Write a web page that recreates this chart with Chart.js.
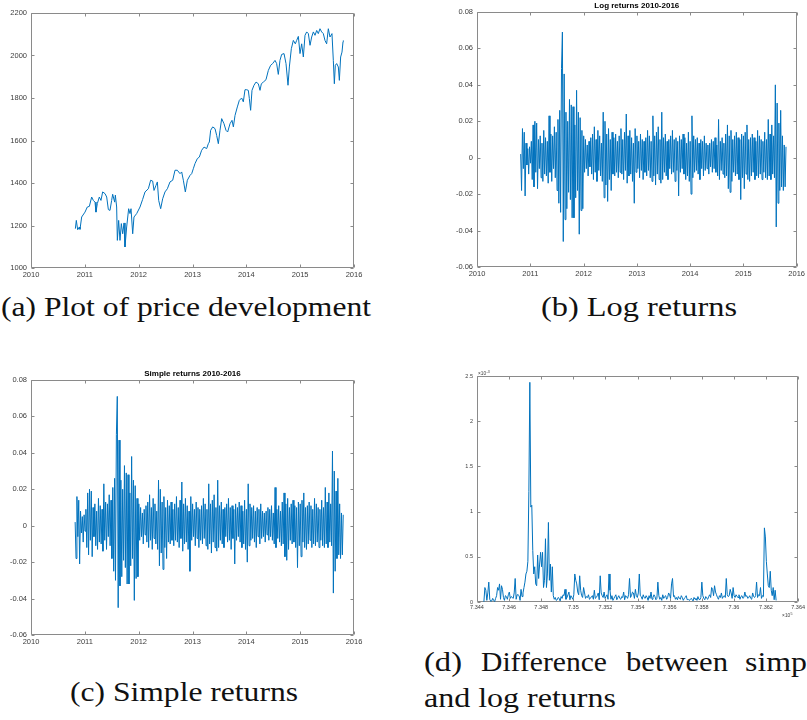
<!DOCTYPE html>
<html>
<head>
<meta charset="utf-8">
<script src="https://cdn.jsdelivr.net/npm/chart.js@4.4.1/dist/chart.umd.min.js"></script>
<style>
  html, body { margin:0; padding:0; background:#fff; width:807px; height:720px; overflow:hidden; }
  canvas { position:absolute; }
  .cap { position:absolute; font-family:"Liberation Serif","Times New Roman",serif; font-size:28px; line-height:28px; white-space:nowrap; color:#111; transform-origin:0 0; }
</style>
</head>
<body>
<canvas id="cA" width="400" height="290" style="left:0;top:0"></canvas>
<canvas id="cB" width="407" height="290" style="left:400px;top:0"></canvas>
<canvas id="cC" width="400" height="300" style="left:0;top:360px"></canvas>
<canvas id="cD" width="407" height="280" style="left:400px;top:360px"></canvas>

<div class="cap" id="capA">(a) Plot of price development</div>
<div class="cap" id="capB">(b) Log returns</div>
<div class="cap" id="capC">(c) Simple returns</div>
<div class="cap" id="capD1">(d)</div>
<div class="cap" id="capD2">Difference</div>
<div class="cap" id="capD3">between</div>
<div class="cap" id="capD4">simple</div>
<div class="cap" id="capD5">and log returns</div>

<script>
// ---------------- DATA ----------------
const yearTicks = [2010, 2011, 2012, 2013, 2014, 2015, 2016];

const priceYears = [2010.824,2010.842,2010.867,2010.898,2010.910,2010.941,2011.003,2011.046,2011.084,2011.127,
2011.158,2011.189,2011.207,2011.232,2011.269,2011.300,2011.331,2011.375,2011.406,2011.437,
2011.467,2011.498,2011.517,2011.554,2011.567,2011.591,2011.604,2011.628,2011.653,2011.678,
2011.703,2011.728,2011.746,2011.777,2011.814,2011.839,2011.858,2011.889,2011.913,2011.963,
2012.025,2012.074,2012.118,2012.180,2012.223,2012.260,2012.285,2012.322,2012.347,2012.372,
2012.409,2012.446,2012.489,2012.533,2012.582,2012.632,2012.675,2012.718,2012.768,2012.799,
2012.830,2012.867,2012.904,2012.954,2012.985,2013.015,2013.046,2013.090,2013.127,2013.170,
2013.214,2013.263,2013.294,2013.313,2013.337,2013.375,2013.418,2013.449,2013.480,2013.511,
2013.542,2013.585,2013.622,2013.653,2013.697,2013.734,2013.759,2013.790,2013.833,2013.870,
2013.913,2013.944,2013.975,2014.006,2014.037,2014.056,2014.080,2014.105,2014.142,2014.180,
2014.223,2014.254,2014.279,2014.316,2014.365,2014.409,2014.452,2014.489,2014.533,2014.563,
2014.594,2014.625,2014.656,2014.700,2014.737,2014.774,2014.799,2014.836,2014.873,2014.910,
2014.935,2014.966,2014.997,2015.028,2015.059,2015.090,2015.121,2015.152,2015.183,2015.214,
2015.245,2015.276,2015.307,2015.337,2015.368,2015.399,2015.430,2015.461,2015.492,2015.523,
2015.554,2015.591,2015.616,2015.635,2015.653,2015.678,2015.709,2015.728,2015.752,2015.777,
2015.796,2015.802];

const priceValues = [1185,1224,1180,1193,1182,1240,1263,1287,1290,1334,
1318,1310,1263,1303,1334,1318,1358,1350,1334,1275,
1271,1318,1347,1310,1343,1287,1130,1224,1130,1209,
1161,1212,1099,1193,1279,1256,1279,1161,1240,1256,
1287,1323,1358,1373,1413,1409,1365,1389,1405,1318,
1279,1326,1358,1373,1405,1413,1460,1460,1444,1452,
1413,1358,1413,1436,1444,1467,1491,1515,1522,1554,
1569,1562,1585,1593,1648,1664,1656,1624,1585,1648,
1703,1679,1648,1640,1679,1695,1664,1718,1758,1789,
1800,1782,1839,1839,1836,1797,1742,1836,1860,1875,
1867,1836,1867,1875,1886,1930,1954,1962,1977,1962,
1911,1977,2005,2009,1962,1860,1946,2032,2071,2055,
2071,2090,2009,2055,1993,2095,2111,2103,2048,2087,
2111,2095,2118,2103,2126,2111,2103,2071,2055,2126,
2087,2103,1977,1867,1954,1962,1946,1883,1993,2016,
2065,2071];

// returns sampled from 2010.82 to 2015.80 (equally spaced observations)
const returnsFirstYear = 2010.82;
const returnsLastYear = 2015.80;

const logReturns = [0.002,-0.018,0.016,-0.006,0.014,-0.021,0.008,-0.004,0.005,-0.009,
0.006,-0.003,0.009,-0.012,0.018,-0.016,0.020,-0.008,0.019,-0.017,
0.010,-0.006,0.012,-0.011,0.008,-0.013,0.015,-0.009,0.011,-0.010,
0.009,-0.014,0.023,-0.008,0.013,-0.013,0.012,-0.006,0.017,-0.011,
0.014,-0.018,0.021,-0.025,0.026,-0.030,0.049,0.069,-0.046,0.046,
-0.034,0.025,-0.028,0.020,-0.019,0.032,-0.023,0.029,-0.033,0.028,
-0.033,0.018,-0.022,0.037,-0.018,0.025,-0.042,0.022,-0.029,0.015,
-0.028,0.012,-0.008,0.010,-0.006,0.007,-0.010,0.009,-0.005,0.011,
-0.009,0.013,-0.012,0.017,-0.008,0.010,-0.013,0.015,-0.007,0.012,
-0.010,0.008,-0.013,0.025,-0.022,0.020,-0.015,0.013,-0.024,0.016,
-0.012,0.010,-0.018,0.014,-0.009,0.011,-0.010,0.013,-0.008,0.009,
-0.011,0.012,-0.008,0.016,-0.009,0.010,-0.012,0.014,-0.007,0.024,
-0.014,0.012,-0.010,0.015,-0.009,0.011,-0.013,0.008,-0.025,0.016,
-0.008,0.012,-0.006,0.009,-0.011,0.013,-0.007,0.010,-0.012,0.009,
-0.008,0.011,-0.010,0.015,-0.007,0.012,-0.011,0.009,-0.013,0.023,
-0.010,0.012,-0.015,0.014,-0.009,0.017,-0.012,0.010,-0.014,0.025,
-0.012,0.011,-0.008,0.013,-0.010,0.009,-0.012,0.010,-0.006,0.012,
-0.009,0.015,-0.008,0.010,-0.013,0.011,-0.007,0.009,-0.021,0.012,
-0.008,0.010,-0.006,0.013,-0.009,0.011,-0.012,0.008,-0.010,0.014,
-0.013,0.009,-0.020,0.023,-0.011,0.012,-0.008,0.010,-0.007,0.011,
-0.009,0.008,-0.012,0.010,-0.006,0.009,-0.010,0.012,-0.007,0.008,
-0.006,0.007,-0.009,0.008,-0.005,0.010,-0.008,0.009,-0.006,0.011,
-0.008,0.007,-0.010,0.021,-0.012,0.009,-0.007,0.011,-0.009,0.008,
-0.011,0.013,-0.010,0.018,-0.017,0.012,-0.019,0.015,-0.013,0.010,
-0.008,0.012,-0.010,0.014,-0.009,0.011,-0.012,0.010,-0.023,0.013,
-0.011,0.012,-0.017,0.014,-0.009,0.018,-0.012,0.010,-0.013,0.011,
-0.010,0.013,-0.008,0.011,-0.012,0.009,-0.010,0.015,-0.011,0.012,
-0.009,0.010,-0.012,0.009,-0.008,0.014,-0.011,0.010,-0.012,0.021,
-0.010,0.013,-0.012,0.018,-0.009,0.012,-0.011,0.040,-0.038,0.030,
-0.025,0.019,-0.018,0.026,-0.016,0.012,-0.018,0.007,-0.016,0.006];

const simpleReturns = [0.002,-0.018,0.016,-0.006,0.014,-0.021,0.008,-0.004,0.005,-0.009,
0.006,-0.003,0.009,-0.012,0.018,-0.016,0.020,-0.008,0.019,-0.017,
0.010,-0.006,0.012,-0.011,0.008,-0.013,0.015,-0.009,0.011,-0.010,
0.009,-0.014,0.023,-0.008,0.013,-0.013,0.012,-0.006,0.017,-0.011,
0.014,-0.018,0.021,-0.025,0.026,-0.030,0.050,0.071,-0.045,0.047,
-0.033,0.025,-0.028,0.020,-0.019,0.033,-0.023,0.029,-0.032,0.028,
-0.032,0.018,-0.022,0.038,-0.018,0.025,-0.041,0.022,-0.029,0.015,
-0.028,0.012,-0.008,0.010,-0.006,0.007,-0.010,0.009,-0.005,0.011,
-0.009,0.013,-0.012,0.017,-0.008,0.010,-0.013,0.015,-0.007,0.012,
-0.010,0.008,-0.013,0.025,-0.022,0.020,-0.015,0.013,-0.024,0.016,
-0.012,0.010,-0.018,0.014,-0.009,0.011,-0.010,0.013,-0.008,0.009,
-0.011,0.012,-0.008,0.016,-0.009,0.010,-0.012,0.014,-0.007,0.024,
-0.014,0.012,-0.010,0.015,-0.009,0.011,-0.013,0.008,-0.025,0.016,
-0.008,0.012,-0.006,0.009,-0.011,0.013,-0.007,0.010,-0.012,0.009,
-0.008,0.011,-0.010,0.015,-0.007,0.012,-0.011,0.009,-0.013,0.023,
-0.010,0.012,-0.015,0.014,-0.009,0.017,-0.012,0.010,-0.014,0.025,
-0.012,0.011,-0.008,0.013,-0.010,0.009,-0.012,0.010,-0.006,0.012,
-0.009,0.015,-0.008,0.010,-0.013,0.011,-0.007,0.009,-0.021,0.012,
-0.008,0.010,-0.006,0.013,-0.009,0.011,-0.012,0.008,-0.010,0.014,
-0.013,0.009,-0.020,0.023,-0.011,0.012,-0.008,0.010,-0.007,0.011,
-0.009,0.008,-0.012,0.010,-0.006,0.009,-0.010,0.012,-0.007,0.008,
-0.006,0.007,-0.009,0.008,-0.005,0.010,-0.008,0.009,-0.006,0.011,
-0.008,0.007,-0.010,0.021,-0.012,0.009,-0.007,0.011,-0.009,0.008,
-0.011,0.013,-0.010,0.018,-0.017,0.012,-0.019,0.015,-0.013,0.010,
-0.008,0.012,-0.010,0.014,-0.009,0.011,-0.012,0.010,-0.023,0.013,
-0.011,0.012,-0.017,0.014,-0.009,0.018,-0.012,0.010,-0.013,0.011,
-0.010,0.013,-0.008,0.011,-0.012,0.009,-0.010,0.015,-0.011,0.012,
-0.009,0.010,-0.012,0.009,-0.008,0.014,-0.011,0.010,-0.012,0.021,
-0.010,0.013,-0.012,0.018,-0.009,0.012,-0.011,0.041,-0.037,0.030,
-0.025,0.019,-0.018,0.026,-0.016,0.012,-0.018,0.007,-0.016,0.006];

// difference simple - log, in units of 1e-3, on a datenum axis
const diffFirstDatenum = 734443;
const diffLastDatenum = 736263;
const diffTimes1e3 = [0.002,0.16,0.13,0.018,0.10,0.22,0.03,0.008,0.012,0.04,
0.018,0.005,0.04,0.07,0.16,0.13,0.20,0.03,0.18,0.14,
0.05,0.018,0.07,0.06,0.03,0.08,0.11,0.04,0.06,0.05,
0.04,0.10,0.26,0.03,0.08,0.08,0.07,0.018,0.14,0.06,
0.10,0.16,0.22,0.31,0.34,0.45,1.22,2.43,1.05,1.07,
0.57,0.31,0.39,0.20,0.18,0.52,0.26,0.42,0.55,0.39,
0.55,0.16,0.24,0.70,0.16,0.31,0.88,0.24,0.42,0.11,
0.39,0.07,0.03,0.05,0.018,0.025,0.05,0.04,0.012,0.06,
0.04,0.08,0.07,0.14,0.03,0.05,0.08,0.11,0.025,0.07,
0.05,0.03,0.08,0.31,0.24,0.20,0.11,0.08,0.29,0.13,
0.07,0.05,0.16,0.10,0.04,0.06,0.05,0.08,0.03,0.04,
0.06,0.07,0.03,0.13,0.04,0.05,0.07,0.10,0.025,0.29,
0.10,0.07,0.05,0.11,0.04,0.06,0.08,0.03,0.31,0.13,
0.03,0.07,0.018,0.04,0.06,0.08,0.025,0.05,0.07,0.04,
0.03,0.06,0.05,0.11,0.025,0.07,0.06,0.04,0.08,0.26,
0.05,0.07,0.11,0.10,0.04,0.14,0.07,0.05,0.10,0.31,
0.07,0.06,0.03,0.08,0.05,0.04,0.07,0.05,0.018,0.07,
0.04,0.11,0.03,0.05,0.08,0.06,0.025,0.04,0.22,0.07,
0.03,0.05,0.018,0.08,0.04,0.06,0.07,0.03,0.05,0.10,
0.08,0.04,0.20,0.26,0.06,0.07,0.03,0.05,0.025,0.06,
0.04,0.03,0.07,0.05,0.018,0.04,0.05,0.07,0.025,0.03,
0.018,0.025,0.04,0.03,0.012,0.05,0.03,0.04,0.018,0.06,
0.03,0.025,0.05,0.22,0.07,0.04,0.025,0.06,0.04,0.03,
0.06,0.08,0.05,0.16,0.14,0.07,0.18,0.11,0.08,0.05,
0.03,0.07,0.05,0.10,0.04,0.06,0.07,0.05,0.26,0.08,
0.06,0.07,0.14,0.10,0.04,0.16,0.07,0.05,0.08,0.06,
0.05,0.08,0.03,0.06,0.07,0.04,0.05,0.11,0.06,0.07,
0.04,0.05,0.07,0.04,0.03,0.10,0.06,0.05,0.07,0.22,
0.05,0.08,0.07,0.16,0.04,0.07,0.06,0.82,0.72,0.45,
0.31,0.18,0.16,0.34,0.13,0.07,0.16,0.025,0.13,0.018];

// ---------------- HELPERS ----------------
const LINE = '#0072bd';
const AXIS = '#8a8a8a';
const TICKTXT = '#3c3c3c';
const SANS = '"Liberation Sans", Helvetica, Arial, sans-serif';

function evenSeries(values, first, last) {
  const step = (last - first) / (values.length - 1);
  return values.map((v, i) => ({ x: first + i * step, y: v }));
}

const boxPlugin = {
  id: 'mbox',
  beforeDatasetsDraw(chart, args, o) {
    const { ctx, chartArea: a } = chart;
    const L = Math.round(a.left) + 0.5, R = Math.round(a.right) - 0.5;
    const T = Math.round(a.top) + 0.5, B = Math.round(a.bottom) - 0.5;
    ctx.save();
    ctx.strokeStyle = AXIS; ctx.lineWidth = 1;
    ctx.beginPath();
    ctx.rect(L, T, R - L, B - T);
    const tl = o.tickLen || 3;
    chart.scales.x.ticks.forEach(t => {
      const p = Math.round(chart.scales.x.getPixelForValue(t.value)) + 0.5;
      ctx.moveTo(p, B); ctx.lineTo(p, B - tl);
      ctx.moveTo(p, T); ctx.lineTo(p, T + tl);
    });
    chart.scales.y.ticks.forEach(t => {
      const p = Math.round(chart.scales.y.getPixelForValue(t.value)) + 0.5;
      ctx.moveTo(L, p); ctx.lineTo(L + tl, p);
      ctx.moveTo(R, p); ctx.lineTo(R - tl, p);
    });
    ctx.stroke();
    if (o.title) {
      ctx.fillStyle = '#000';
      ctx.font = 'bold 8px ' + SANS;
      ctx.textAlign = 'center'; ctx.textBaseline = 'middle';
      ctx.fillText(o.title, (a.left + a.right) / 2, a.top - 6.5);
    }
    if (o.expY) {
      ctx.fillStyle = TICKTXT; ctx.textAlign = 'left'; ctx.textBaseline = 'alphabetic';
      ctx.font = '4.8px ' + SANS;
      ctx.fillText('\u00d710', a.left + 1, a.top - 1);
      const w = ctx.measureText('\u00d710').width;
      ctx.font = '3.6px ' + SANS;
      ctx.fillText(o.expY, a.left + 1 + w + 0.3, a.top - 3.5);
    }
    if (o.expX) {
      ctx.fillStyle = TICKTXT; ctx.textAlign = 'left'; ctx.textBaseline = 'alphabetic';
      ctx.font = '4.8px ' + SANS;
      const x0 = a.right - 16;
      ctx.fillText('\u00d710', x0, a.bottom + 15);
      const w = ctx.measureText('\u00d710').width;
      ctx.font = '3.6px ' + SANS;
      ctx.fillText(o.expX, x0 + w + 0.3, a.bottom + 12.5);
    }
    ctx.restore();
  }
};

function makeChart(id, data, box, xs, ys, plug, fontSize) {
  const tickFont = { family: SANS, size: fontSize };
  return new Chart(document.getElementById(id), {
    type: 'line',
    data: { datasets: [{ data, borderColor: LINE, borderWidth: 1, pointRadius: 0, tension: 0, fill: false }] },
    options: {
      responsive: false, animation: false, devicePixelRatio: 1,
      parsing: false, normalized: true,
      layout: { padding: { left: 0, top: box.top, right: box.right, bottom: 0 } },
      plugins: { legend: { display: false }, tooltip: { enabled: false }, title: { display: false }, mbox: plug },
      scales: {
        x: Object.assign({
          type: 'linear', position: 'bottom',
          grid: { display: false, drawTicks: false, tickLength: 0 }, border: { display: false },
          ticks: { font: tickFont, color: TICKTXT, padding: xs.pad, autoSkip: false, maxRotation: 0, minRotation: 0, stepSize: xs.step, callback: xs.fmt },
          afterFit: s => { s.height = box.xh; }
        }, xs.o),
        y: Object.assign({
          type: 'linear', position: 'left',
          grid: { display: false, drawTicks: false, tickLength: 0 }, border: { display: false },
          ticks: { font: tickFont, color: TICKTXT, padding: ys.pad, autoSkip: false, stepSize: ys.step, callback: ys.fmt },
          afterFit: s => { s.width = box.yw; }
        }, ys.o)
      }
    },
    plugins: [boxPlugin]
  });
}

const yearAxis = {
  pad: 2, step: 1, fmt: v => String(v),
  o: { min: yearTicks[0], max: yearTicks[yearTicks.length - 1] }
};
const retY = { pad: 4, step: 0.02, fmt: v => String(Number(v.toFixed(2))), o: { min: -0.06, max: 0.08 } };

// Panel A: price
const priceData = priceYears.map((x, i) => ({ x, y: priceValues[i] }));
makeChart('cA', priceData,
  { top: 13, right: 46, xh: 22, yw: 31 },
  yearAxis, { pad: 4, step: 200, fmt: v => String(v), o: { min: 1000, max: 2200 } },
  { tickLen: 3 }, 7.5);

// Panel B: log returns
makeChart('cB', evenSeries(logReturns, returnsFirstYear, returnsLastYear),
  { top: 12, right: 8, xh: 23, yw: 77 },
  yearAxis, retY, { tickLen: 3, title: 'Log returns 2010-2016' }, 7.5);

// Panel C: simple returns
makeChart('cC', evenSeries(simpleReturns, returnsFirstYear, returnsLastYear),
  { top: 20, right: 46, xh: 25, yw: 31 },
  yearAxis, retY, { tickLen: 3, title: 'Simple returns 2010-2016' }, 7.5);

// Panel D: difference
makeChart('cD', evenSeries(diffTimes1e3, diffFirstDatenum, diffLastDatenum),
  { top: 16, right: 8, xh: 38, yw: 77 },
  { pad: 2, step: 200, fmt: v => String(Number((v / 1e5).toFixed(3))), o: { min: 734400, max: 736400 } },
  { pad: 4, step: 0.5, fmt: v => String(Number(v.toFixed(1))), o: { min: 0, max: 2.5 } },
  { tickLen: 3, expY: '-3', expX: '5' }, 5.5);

// ---------------- CAPTIONS ----------------
const FS = 28, ASC = 0.891, DESC = 0.216;
const baseOff = (FS - (ASC + DESC) * FS) / 2 + ASC * FS;
function place(id, left, baseline, width) {
  const el = document.getElementById(id);
  el.style.left = left + 'px';
  el.style.top = (baseline - baseOff) + 'px';
  const w = el.getBoundingClientRect().width;
  el.style.transform = 'scaleX(' + (width / w) + ')';
}
place('capA', 1, 316, 370);
place('capB', 541, 316, 196);
place('capC', 70, 701, 228);
place('capD1', 424, 671, 38);
place('capD2', 481, 671, 126);
place('capD3', 626, 671, 102);
place('capD4', 745, 671, 85);
place('capD5', 424, 707, 192);
</script>
</body>
</html>
